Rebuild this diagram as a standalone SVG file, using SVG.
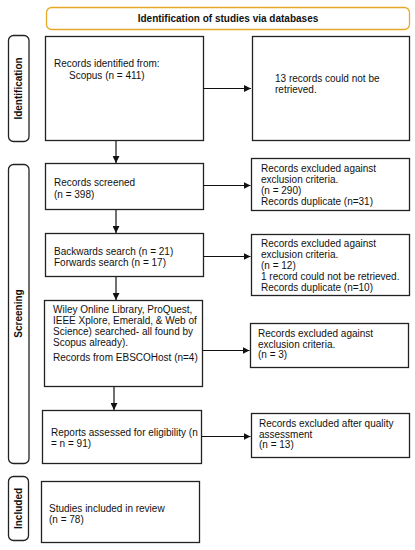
<svg xmlns="http://www.w3.org/2000/svg" width="415" height="550" viewBox="0 0 415 550">
<style>
text{font-family:"Liberation Sans",Arial,sans-serif;font-size:10px;fill:#111}
.box{fill:#fff;stroke:#222;stroke-width:1.3}
.side{fill:#fff;stroke:#222;stroke-width:1.3}
.hdr{fill:#fff;stroke:#E8A92A;stroke-width:1.3}
.b{font-weight:bold}
.c{stroke:#111;stroke-width:1.2;fill:none}
</style>
<defs>
<marker id="ah" viewBox="0 0 10 10" refX="10" refY="5" markerWidth="7" markerHeight="7" markerUnits="userSpaceOnUse" orient="auto">
<path d="M0,0 L10,5 L0,10 z" fill="#111"/>
</marker>
</defs>
<rect width="415" height="550" fill="#fff"/>
<g id="header">
<rect class="hdr" x="46.5" y="7.5" width="363" height="22" rx="5"/>
<text class="b" x="228" y="22" text-anchor="middle">Identification of studies via databases</text>
</g>
<g id="lbl-identification">
<rect class="side" x="8.5" y="35.5" width="20.5" height="106" rx="5"/>
<text class="b" transform="translate(22,88.5) rotate(-90)" text-anchor="middle">Identification</text>
</g>
<g id="lbl-screening">
<rect class="side" x="8.5" y="164.5" width="20.5" height="299" rx="5"/>
<text class="b" transform="translate(22,313.5) rotate(-90)" text-anchor="middle">Screening</text>
</g>
<g id="lbl-included">
<rect class="side" x="8.5" y="476.5" width="20" height="64" rx="5"/>
<text class="b" transform="translate(22,508.5) rotate(-90)" text-anchor="middle">Included</text>
</g>
<g id="n1">
<rect class="box" x="45.5" y="36.5" width="158" height="104"/>
<text x="54" y="67">Records identified from:</text>
<text x="69" y="79">Scopus (n = 411)</text>
</g>
<g id="n1r">
<rect class="box" x="252.5" y="36.5" width="157" height="104"/>
<text x="275" y="82">13 records could not be</text>
<text x="275" y="93">retrieved.</text>
</g>
<g id="n2">
<rect class="box" x="45.5" y="163.5" width="158" height="46"/>
<text x="54" y="186">Records screened</text>
<text x="54" y="198">(n = 398)</text>
</g>
<g id="n2r">
<rect class="box" x="251.5" y="158.5" width="158" height="52"/>
<text x="261" y="172">Records excluded against</text>
<text x="261" y="183">exclusion criteria.</text>
<text x="261" y="194">(n = 290)</text>
<text x="261" y="205">Records duplicate (n=31)</text>
</g>
<g id="n3">
<rect class="box" x="45.5" y="233.5" width="158" height="43"/>
<text x="54" y="255">Backwards search (n = 21)</text>
<text x="54" y="266">Forwards search (n = 17)</text>
</g>
<g id="n3r">
<rect class="box" x="251.5" y="234.5" width="158" height="61"/>
<text x="261" y="247">Records excluded against</text>
<text x="261" y="258">exclusion criteria.</text>
<text x="261" y="269">(n = 12)</text>
<text x="261" y="280">1 record could not be retrieved.</text>
<text x="261" y="291">Records duplicate (n=10)</text>
</g>
<g id="n4">
<rect class="box" x="44.5" y="300.5" width="158" height="86"/>
<text x="53" y="313">Wiley Online Library, ProQuest,</text>
<text x="53" y="324">IEEE Xplore, Emerald, &amp; Web of</text>
<text x="53" y="335">Science) searched- all found by</text>
<text x="53" y="346">Scopus already).</text>
<text x="53" y="361">Records from EBSCOHost (n=4)</text>
</g>
<g id="n4r">
<rect class="box" x="250.5" y="323.5" width="158" height="44"/>
<text x="258" y="337">Records excluded against</text>
<text x="258" y="348">exclusion criteria.</text>
<text x="258" y="358">(n = 3)</text>
</g>
<g id="n5">
<rect class="box" x="42.5" y="410.5" width="159" height="53"/>
<text x="51" y="436">Reports assessed for eligibility (n</text>
<text x="51" y="447">= n = 91)</text>
</g>
<g id="n5r">
<rect class="box" x="251.5" y="413.5" width="158" height="44"/>
<text x="259" y="427">Records excluded after quality</text>
<text x="259" y="438">assessment</text>
<text x="259" y="448">(n = 13)</text>
</g>
<g id="n6">
<rect class="box" x="41.5" y="481.5" width="158" height="61"/>
<text x="49" y="512">Studies included in review</text>
<text x="49" y="523">(n = 78)</text>
</g>
<g id="connectors">
<line class="c" x1="203.5" y1="88.5" x2="251" y2="88.5" marker-end="url(#ah)"/>
<line class="c" x1="116" y1="141" x2="116" y2="163" marker-end="url(#ah)"/>
<line class="c" x1="203.5" y1="185.5" x2="250.5" y2="185.5" marker-end="url(#ah)"/>
<line class="c" x1="116" y1="210" x2="116" y2="233" marker-end="url(#ah)"/>
<line class="c" x1="203.5" y1="256.5" x2="250.5" y2="256.5" marker-end="url(#ah)"/>
<line class="c" x1="116" y1="277" x2="116" y2="300" marker-end="url(#ah)"/>
<line class="c" x1="202.5" y1="350.5" x2="249.5" y2="350.5" marker-end="url(#ah)"/>
<line class="c" x1="114" y1="387" x2="114" y2="410" marker-end="url(#ah)"/>
<line class="c" x1="201.5" y1="436.5" x2="250.5" y2="436.5" marker-end="url(#ah)"/>
</g>
</svg>
